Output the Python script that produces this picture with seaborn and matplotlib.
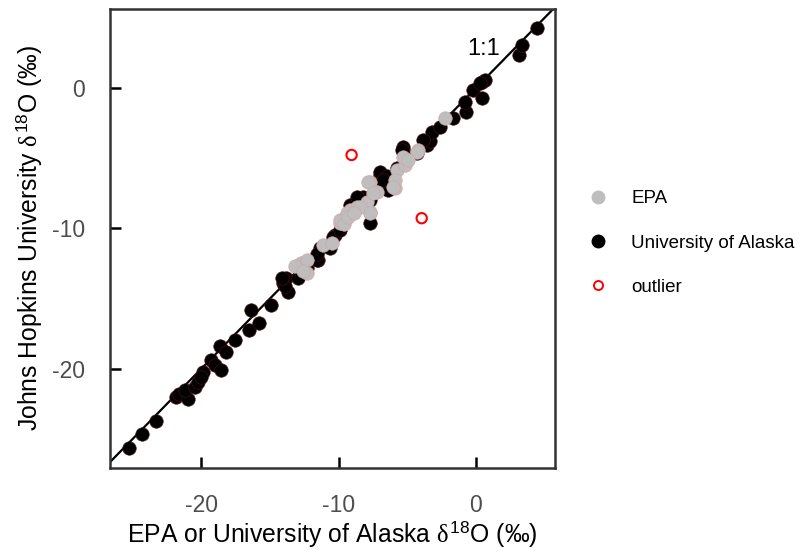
import numpy as np
import pandas as pd
import matplotlib
matplotlib.use("Agg")
import matplotlib.pyplot as plt
import seaborn as sns
from matplotlib.lines import Line2D

# ---- data ----
ua_x = [-25.25, -24.27, -23.3, -21.85, -21.6, -20.95, -21.2, -20.47, -20.2, -19.86, -19.98,
        -19.25, -19.0, -18.52, -18.65, -18.16, -17.55, -16.53, -16.34, -15.8, -14.95,
        -13.67, -14.03, -13.8, -12.94, -13.9, -14.15, -12.3,
        -11.49, -11.36, -10.63, -10.27, -7.72, -11.6, -11.6, -10.39, -9.9, -9.18, -8.2,
        -8.69, -6.99, -6.99, -6.5, -6.75, -6.39, -5.3, -5.3, -4.32, -3.59, -3.35,
        -6.75, -5.78, -7.72, -5.41,
        -3.23, -3.84, -2.62, -1.65, -0.73, -0.8, -0.19, 0.41, 0.41, 0.66, 0.29,
        3.15, 3.33, 4.42]
ua_y = [-25.6, -24.65, -23.7, -21.97, -21.8, -22.16, -21.5, -21.26, -20.9, -20.19, -20.55,
        -19.36, -19.7, -20.07, -18.4, -18.77, -17.94, -17.22, -15.8, -16.75, -15.44,
        -14.5, -13.9, -13.55, -13.55, -14.1, -13.55, -12.8,
        -12.24, -11.41, -11.4, -10.46, -9.63, -12.24, -11.8, -10.58, -10.1, -8.33, -7.74,
        -7.74, -6.19, -6.0, -6.3, -6.78, -7.26, -4.41, -4.2, -4.65, -4.06, -3.8,
        -6.55, -5.72, -7.97, -4.41,
        -3.1, -3.7, -2.75, -2.16, -1.69, -0.97, -0.14, -0.73, 0.45, 0.57, 0.33,
        2.35, 3.06, 4.25]

epa_x = [-12.7, -12.33, -11.12, -10.5, -9.9, -9.9, -9.18, -8.69, -7.72, -7.96, -7.72,
         -7.23, -5.9, -5.78, -5.17, -5.3, -4.2, -13.2, -12.33, -2.26, -4.32, -4.93,
         -5.9, -7.84, -6.02, -7.48, -8.45, -9.42, -9.6, -9.3, -7.72, -12.6, -8.9]
epa_y = [-12.48, -12.24, -11.17, -11.05, -9.63, -9.4, -8.68, -8.45, -8.8, -8.09, -6.67,
         -7.38, -7.14, -5.84, -5.48, -4.89, -4.41, -12.7, -13.2, -2.16, -4.53, -5.12,
         -6.55, -6.67, -7.02, -7.49, -8.45, -8.92, -9.7, -9.2, -8.92, -13.0, -8.9]

out_x = [-9.05, -3.95]
out_y = [-4.77, -9.27]

x_ticks = [-20, -10, 0]
y_ticks = [-20, -10, 0]
legend_labels = ["EPA", "University of Alaska", "outlier"]

# ---- style ----
sns.set_style("white")
plt.rcParams['font.family'] = ['Liberation Sans', 'DejaVu Sans']
plt.rcParams['mathtext.fontset'] = 'custom'
plt.rcParams['mathtext.rm'] = 'Liberation Sans'
plt.rcParams['mathtext.it'] = 'Liberation Serif'
plt.rcParams['mathtext.bf'] = 'Liberation Sans:bold'
plt.rcParams['text.color'] = 'black'

fig = plt.figure(figsize=(8.04, 5.54), dpi=100)
ax = fig.add_axes([110/804, 1-468/554, (555-110)/804, (468-9)/554])

df_ua = pd.DataFrame({"x": ua_x, "y": ua_y})
df_epa = pd.DataFrame({"x": epa_x, "y": epa_y})
df_out = pd.DataFrame({"x": out_x, "y": out_y})

ax.axline((0, 0), slope=1, color="black", lw=1.6, zorder=1)
sns.scatterplot(data=df_ua, x="x", y="y", ax=ax, color="black", s=95,
                edgecolor="#5a1010", linewidth=0.4, zorder=2)
sns.scatterplot(data=df_epa, x="x", y="y", ax=ax, color="#bebebe", s=95,
                edgecolor="#d8a0a0", linewidth=0.4, zorder=3)
sns.scatterplot(data=df_out, x="x", y="y", ax=ax, facecolor="none", s=55,
                edgecolor="red", linewidth=1.5, zorder=4)

ax.set_xlim(-26.63, 5.75)
ax.set_ylim(-27.05, 5.62)
ax.set_xticks(x_ticks)
ax.set_yticks(y_ticks)
ax.set_xticklabels([str(t) for t in x_ticks])
ax.set_yticklabels([str(t) for t in y_ticks])
ax.tick_params(axis="both", which="major", direction="in", length=8, width=1.8,
               color="black", labelcolor="#4d4d4d", labelsize=16.5,
               bottom=True, left=True, top=False, right=False)
ax.tick_params(axis="x", pad=19)
ax.tick_params(axis="y", pad=18)
for sp in ax.spines.values():
    sp.set_color("#333333")
    sp.set_linewidth(1.8)

ax.set_xlabel(r"EPA or University of Alaska $\delta^{18}$O (‰)", fontsize=17.8, color="black", labelpad=1)
ax.set_ylabel(r"Johns Hopkins University $\delta^{18}$O (‰)", fontsize=17.8, color="black", labelpad=6)

ax.text(0.58, 2.75, "1:1", fontsize=17, ha="center", va="center", color="black")

handles = [
    Line2D([], [], marker="o", linestyle="none", markersize=9, markerfacecolor="#bebebe", markeredgecolor="#bebebe"),
    Line2D([], [], marker="o", linestyle="none", markersize=9, markerfacecolor="black", markeredgecolor="black"),
    Line2D([], [], marker="o", linestyle="none", markersize=6.5, markerfacecolor="none", markeredgecolor="red", markeredgewidth=1.4),
]
leg = fig.legend(handles, legend_labels, loc="center left", bbox_to_anchor=(590/804, 1-243/554),
                 bbox_transform=fig.transFigure, frameon=False, fontsize=13.5,
                 handlelength=0.8, handletextpad=1.4, labelspacing=1.45, borderpad=0, borderaxespad=0)
for t in leg.get_texts():
    t.set_color("black")

fig.savefig("out.png", dpi=100)
